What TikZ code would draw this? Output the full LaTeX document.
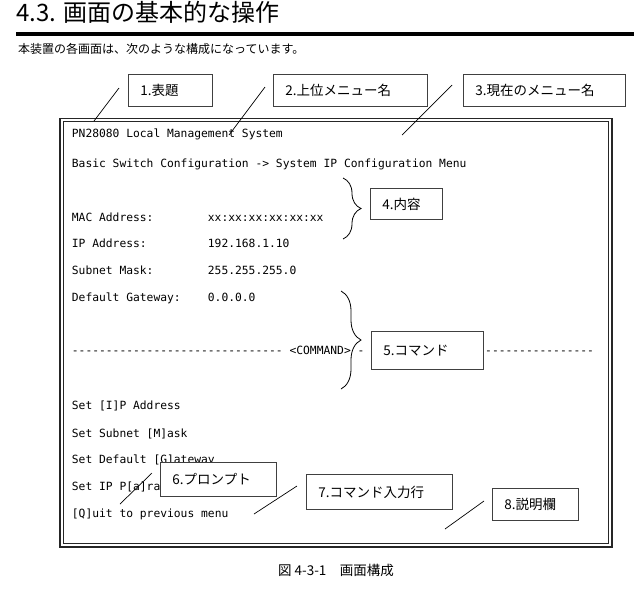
\documentclass[tikz,border=0pt]{standalone}
\usepackage{fontspec}
\setmainfont{Noto Sans CJK JP}
\newfontfamily\termfont{DejaVu Sans Mono}
\usetikzlibrary{decorations.pathreplacing}

\begin{document}
\begin{tikzpicture}[x=1pt, y=-1pt,
  term/.style={anchor=base west, inner sep=0pt, font=\termfont\fontsize{11.3}{13}\selectfont},
  callout/.style={draw=black!75, fill=white, line width=0.9pt, anchor=north west,
                  inner xsep=12pt, inner ysep=0pt, align=left,
                  font=\fontsize{13.5}{15}\selectfont},
  leader/.style={line width=0.7pt},
  brc/.style={line width=0.8pt, decorate, decoration={brace, amplitude=#1}}]
  \useasboundingbox (0,0) rectangle (634,592);
  % heading
  \node[anchor=base west, inner sep=0pt, font=\fontsize{24}{28}\selectfont] (heading) at (16,21.5) {4.3. 画面の基本的な操作};
  \draw[line width=4pt] (16,34) -- (634,34);
  \node[anchor=base west, inner sep=0pt, font=\fontsize{12}{14}\selectfont] (intro) at (18,53.5) {本装置の各画面は、次のような構成になっています。};
  % screen frame
  \draw[line width=1.6pt, black!85] (60,118.3) rectangle (611.7,546.7);
  \draw[line width=1pt, black!85] (63.2,121.6) rectangle (608.4,543.3);
  % screen text
  \node[term] (title) at (71.7,137.6) {PN28080 Local Management System};
  \node[term] (path) at (71.7,167) {Basic Switch Configuration -> System IP Configuration Menu};
  \node[term] (mac) at (71.7,221) {MAC Address:};
  \node[term] (macv) at (207.7,221) {xx:xx:xx:xx:xx:xx};
  \node[term] (ip) at (71.7,247.6) {IP Address:};
  \node[term] (ipv) at (207.7,247.6) {192.168.1.10};
  \node[term] (mask) at (71.7,274.3) {Subnet Mask:};
  \node[term] (maskv) at (207.7,274.3) {255.255.255.0};
  \node[term] (gw) at (71.7,301) {Default Gateway:};
  \node[term] (gwv) at (207.7,301) {0.0.0.0};
  \node[term] (cmdline) at (71.7,354.3) {\foreach \i in {1,...,31}{-} <COMMAND> -};
  \node[term] (cmdrest) at (485,354.3) {\foreach \i in {1,...,16}{-}};
  \node[term] (setip) at (71.7,409.3) {Set [I]P Address};
  \node[term] (setmask) at (71.7,437) {Set Subnet [M]ask};
  \node[term] (setgw) at (71.7,463.6) {Set Default [G]ateway};
  \node[term] (setpar) at (71.7,490.3) {Set IP P[a]ra};
  \node[term] (quit) at (71.7,517.6) {[Q]uit to previous menu};
  % braces
  \coordinate (b4top) at (343,178);
  \coordinate (b4bot) at (343,239);
  \coordinate (b5top) at (341,291);
  \coordinate (b5bot) at (341,389);
  \draw[brc=18pt] (b4top) -- (b4bot);
  \draw[brc=20pt] (b5top) -- (b5bot);
  % callouts
  \node[callout, text width=60pt, minimum height=32pt] (c1) at (128,74) {1.表題};
  \node[callout, text width=130pt, minimum height=32pt] (c2) at (273,74) {2.上位メニュー名};
  \node[callout, text width=138pt, minimum height=32pt] (c3) at (463,74) {3.現在のメニュー名};
  \node[callout, text width=48pt, minimum height=31pt] (c4) at (370,188) {4.内容};
  \node[callout, text width=88pt, minimum height=38pt] (c5) at (371,331) {5.コマンド};
  \node[callout, text width=92pt, minimum height=34pt] (c6) at (160,462) {6.プロンプト};
  \node[callout, text width=122pt, minimum height=35pt] (c7) at (306,474) {7.コマンド入力行};
  \node[callout, text width=62pt, minimum height=32pt] (c8) at (492,488) {8.説明欄};
  % leader lines
  \coordinate (l1a) at (119,88);   \coordinate (l1b) at (94,121);
  \coordinate (l2a) at (265,87);   \coordinate (l2b) at (229,135);
  \coordinate (l3a) at (452,85);   \coordinate (l3b) at (402,135);
  \coordinate (l6a) at (152,473);  \coordinate (l6b) at (120,504);
  \coordinate (l7a) at (297,486);  \coordinate (l7b) at (254,514);
  \coordinate (l8a) at (484,501);  \coordinate (l8b) at (445,529);
  \draw[leader] (l1a) -- (l1b);
  \draw[leader] (l2a) -- (l2b);
  \draw[leader] (l3a) -- (l3b);
  \draw[leader] (l6a) -- (l6b);
  \draw[leader] (l7a) -- (l7b);
  \draw[leader] (l8a) -- (l8b);
  % caption
  \node[anchor=base, inner sep=0pt, font=\fontsize{13.5}{15}\selectfont] (caption) at (336,575) {図 4-3-1　画面構成};
\end{tikzpicture}
\end{document}
